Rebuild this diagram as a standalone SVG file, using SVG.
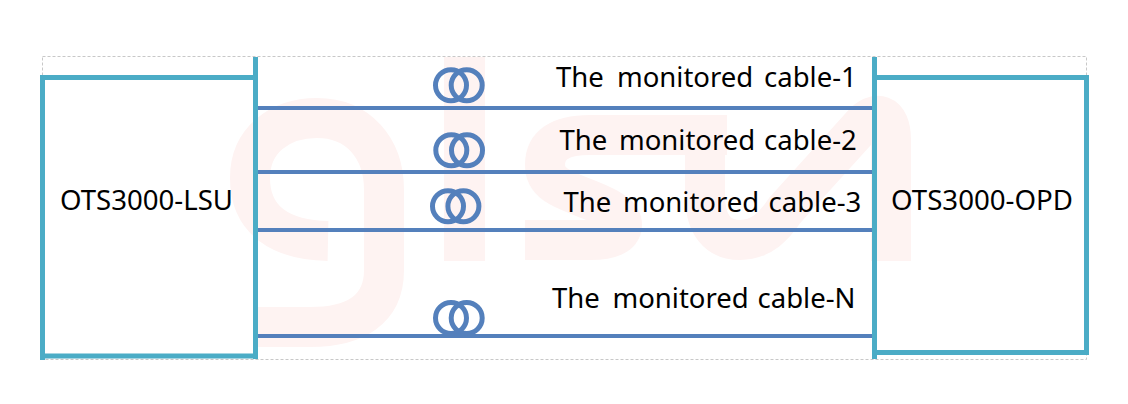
<svg xmlns="http://www.w3.org/2000/svg" width="1128" height="404" viewBox="0 0 1128 404">
<style>
.wm{fill:none;stroke:#fef3f2;stroke-width:40}
.box{fill:none;stroke:#4bacc6;stroke-width:5}
.cable{stroke:#5480bc;stroke-width:4;fill:none}
.coil{stroke:#5480bc;stroke-width:5;fill:none}
text{font-family:"Noto Sans","Open Sans","Liberation Sans",sans-serif;font-size:27.500px;fill:#000}
.dev{font-size:26.500px}
</style>
<rect width="1128" height="404" fill="#fff"/>
<g id="watermark">
<path class="wm" d="M328 241C280 240 250 220 250 178C250 140 280 118 317 118C358 118 384 148 384 190L384 270C384 310 355 327 310 327L253 327"/>
<rect x="444" y="57" width="41" height="204" fill="#fef3f2"/>
<path class="wm" d="M727 135L590 135C560 135 545 145 545 165C545 185 565 190 590 200C610 208 622 215 622 225C622 235 610 240 590 240L525 240"/>
<path class="wm" d="M705 140L705 195C705 225 718 240 740 240C762 240 775 225 785 210L862 125C875 110 891 112 891 140L891 261"/>
</g>
<rect x="42.500" y="56.500" width="1044" height="303" fill="none" stroke="#c8c8c8" stroke-width="1" stroke-dasharray="3 2"/>
<g id="connectors">
<line class="cable" x1="258" y1="108" x2="872" y2="108"/>
<line class="cable" x1="258" y1="172" x2="872" y2="172"/>
<line class="cable" x1="258" y1="230" x2="872" y2="230"/>
<line class="cable" x1="258" y1="336" x2="872" y2="336"/>
</g>
<g id="node-lsu">
<path class="box" d="M42.500 360V77.500H255.500M255.500 57V359M40 356H258"/>
<text class="dev" x="60" y="210" textLength="173" lengthAdjust="spacingAndGlyphs">OTS3000-LSU</text>
</g>
<g id="node-opd">
<path class="box" d="M874.500 57V359M872 77.500H1086.500V352.500H872"/>
<text class="dev" x="891" y="210" textLength="182" lengthAdjust="spacingAndGlyphs">OTS3000-OPD</text>
</g>
<g id="coil-1"><circle class="coil" cx="451" cy="85.300" r="15.500"/><circle class="coil" cx="466.700" cy="85.300" r="15.500"/>
<text y="87"><tspan x="556">The</tspan><tspan x="617">monitored</tspan><tspan x="764">cable-1</tspan></text></g>
<g id="coil-2"><circle class="coil" cx="451.300" cy="150.300" r="15.500"/><circle class="coil" cx="467" cy="150.300" r="15.500"/>
<text y="150"><tspan x="559.500">The</tspan><tspan x="619">monitored</tspan><tspan x="764">cable-2</tspan></text></g>
<g id="coil-3"><circle class="coil" cx="448" cy="206.300" r="15.500"/><circle class="coil" cx="463.400" cy="206.300" r="15.500"/>
<text y="212"><tspan x="563.500">The</tspan><tspan x="623">monitored</tspan><tspan x="768.500">cable-3</tspan></text></g>
<g id="coil-n"><circle class="coil" cx="451" cy="318" r="15.500"/><circle class="coil" cx="466.700" cy="318" r="15.500"/>
<text y="307.500"><tspan x="552">The</tspan><tspan x="612.500">monitored</tspan><tspan x="757.500">cable-N</tspan></text></g>
</svg>
